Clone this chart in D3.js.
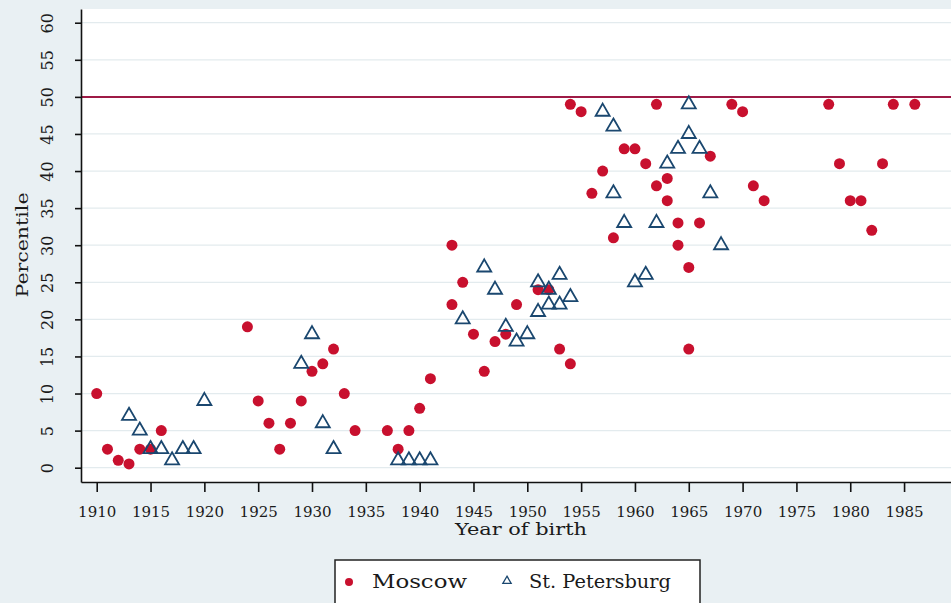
<!DOCTYPE html>
<html>
<head>
<meta charset="utf-8">
<script src="https://cdn.jsdelivr.net/npm/d3@7"></script>
<style>
  body { margin: 0; background: #e9f0f3; }
  svg { display: block; }
  text { font-family: "DejaVu Serif", serif; fill: #1a1a1a; }
</style>
</head>
<body>
<div class="chart"></div>
<script>
// Moscow: year of birth / percentile
const moscowYear = [1910, 1911, 1912, 1913, 1914, 1915, 1916, 1924, 1925, 1926,
  1927, 1928, 1929, 1930, 1931, 1932, 1933, 1934, 1937, 1938,
  1939, 1940, 1941, 1943, 1943, 1944, 1945, 1946, 1947, 1948,
  1949, 1951, 1952, 1953, 1954, 1954, 1955, 1956, 1957, 1958,
  1959, 1960, 1961, 1962, 1962, 1963, 1963, 1964, 1964, 1965,
  1965, 1966, 1967, 1969, 1970, 1971, 1972, 1978, 1979, 1980,
  1981, 1982, 1983, 1984, 1986];
const moscowPct = [10, 2.5, 1, 0.5, 2.5, 2.5, 5, 19, 9, 6,
  2.5, 6, 9, 13, 14, 16, 10, 5, 5, 2.5,
  5, 8, 12, 30, 22, 25, 18, 13, 17, 18,
  22, 24, 24, 16, 14, 49, 48, 37, 40, 31,
  43, 43, 41, 49, 38, 39, 36, 33, 30, 27,
  16, 33, 42, 49, 48, 38, 36, 49, 41, 36,
  36, 32, 41, 49, 49];

// St. Petersburg
const spbYear = [1913, 1914, 1915, 1916, 1917, 1918, 1919, 1920, 1929, 1930,
  1931, 1932, 1938, 1939, 1940, 1941, 1944, 1946, 1947, 1948,
  1949, 1950, 1951, 1951, 1952, 1952, 1953, 1953, 1954, 1957,
  1958, 1958, 1959, 1960, 1961, 1962, 1963, 1964, 1965, 1965,
  1966, 1967, 1968];
const spbPct = [7, 5, 2.5, 2.5, 1, 2.5, 2.5, 9, 14, 18,
  6, 2.5, 1, 1, 1, 1, 20, 27, 24, 19,
  17, 18, 25, 21, 24, 22, 26, 22, 23, 48,
  46, 37, 33, 25, 26, 33, 41, 43, 49, 45,
  43, 37, 30];

const xTicks = d3.range(1910, 1986, 5);
const yTicks = d3.range(0, 61, 5);
const refLine = 50;
const seriesNames = ["Moscow", "St. Petersburg"];

const W = 951, H = 603;
const red = "#c8102e", navy = "#1a476f";

const svg = d3.select(".chart").append("svg")
  .attr("width", W).attr("height", H);

// plot region
const plot = { left: 81, right: 951, top: 9, bottom: 482 };
const x = d3.scaleLinear().domain([1908.54, 1989.36]).range([plot.left, plot.right]);
const y = d3.scaleLinear().domain([-1.93, 61.85]).range([plot.bottom, plot.top]);

svg.append("rect")
  .attr("x", plot.left).attr("y", plot.top)
  .attr("width", plot.right - plot.left).attr("height", plot.bottom - plot.top)
  .attr("fill", "#fff");

// grid
svg.append("g").selectAll("line")
  .data(yTicks.filter(d => d !== refLine))
  .enter().append("line")
  .attr("x1", plot.left).attr("x2", plot.right)
  .attr("y1", d => y(d)).attr("y2", d => y(d))
  .attr("stroke", "#e3ebee").attr("stroke-width", 1.2);

// reference line at 50
svg.append("line")
  .attr("x1", plot.left).attr("x2", plot.right)
  .attr("y1", y(refLine)).attr("y2", y(refLine))
  .attr("stroke", "#9e1a46").attr("stroke-width", 2);

// axes
const xAxis = svg.append("g")
  .attr("transform", `translate(0,${plot.bottom})`)
  .call(d3.axisBottom(x).tickValues(xTicks).tickFormat(d3.format("d"))
    .tickSize(10).tickSizeOuter(0).tickPadding(14));
xAxis.selectAll("text").attr("font-size", 15).attr("font-family", "DejaVu Serif").attr("fill", "#1a1a1a");

const yAxis = svg.append("g")
  .attr("transform", `translate(${plot.left},0)`)
  .call(d3.axisLeft(y).tickValues(yTicks).tickSize(6).tickSizeOuter(0));
yAxis.selectAll("text")
  .attr("x", null).attr("dy", "0.35em")
  .attr("text-anchor", "middle")
  .attr("transform", "translate(-33.5,0) rotate(-90)")
  .attr("font-size", 16).attr("font-family", "DejaVu Serif").attr("fill", "#1a1a1a");

svg.selectAll(".domain, .tick line").attr("stroke", "#111").attr("stroke-width", 1.6);

// axis titles
svg.append("text")
  .attr("x", 521).attr("y", 535)
  .attr("text-anchor", "middle")
  .attr("font-size", 17)
  .attr("textLength", 132)
  .attr("lengthAdjust", "spacingAndGlyphs")
  .text("Year of birth");

svg.append("text")
  .attr("transform", "translate(22,245) rotate(-90)")
  .attr("dy", "0.35em")
  .attr("text-anchor", "middle")
  .attr("font-size", 17)
  .attr("textLength", 105)
  .attr("lengthAdjust", "spacingAndGlyphs")
  .text("Percentile");

// points
const moscow = moscowYear.map((d, i) => ({ year: d, pct: moscowPct[i] }));
const spb = spbYear.map((d, i) => ({ year: d, pct: spbPct[i] }));

svg.append("g").selectAll("circle")
  .data(moscow)
  .enter().append("circle")
  .attr("cx", d => x(d.year))
  .attr("cy", d => y(d.pct))
  .attr("r", 5.5)
  .attr("fill", red);

const tri = d3.symbol().type(d3.symbolTriangle).size(85);
svg.append("g").selectAll("path")
  .data(spb)
  .enter().append("path")
  .attr("d", tri)
  .attr("transform", d => `translate(${x(d.year)},${y(d.pct)})`)
  .attr("fill", "none")
  .attr("stroke", navy)
  .attr("stroke-width", 1.8);

// legend
const legend = svg.append("g");
legend.append("rect")
  .attr("x", 335).attr("y", 560)
  .attr("width", 365).attr("height", 60)
  .attr("fill", "#fff")
  .attr("stroke", "#222").attr("stroke-width", 1.5);

legend.append("circle")
  .attr("cx", 349).attr("cy", 582).attr("r", 4)
  .attr("fill", red);
legend.append("text")
  .attr("x", 372).attr("y", 588)
  .attr("font-size", 18)
  .attr("textLength", 95)
  .attr("lengthAdjust", "spacingAndGlyphs")
  .text(seriesNames[0]);

legend.append("path")
  .attr("d", d3.symbol().type(d3.symbolTriangle).size(30))
  .attr("transform", "translate(507,581)")
  .attr("fill", "none")
  .attr("stroke", navy).attr("stroke-width", 1.3);
legend.append("text")
  .attr("x", 529).attr("y", 588)
  .attr("font-size", 18)
  .attr("textLength", 142)
  .attr("lengthAdjust", "spacingAndGlyphs")
  .text(seriesNames[1]);
</script>
</body>
</html>
